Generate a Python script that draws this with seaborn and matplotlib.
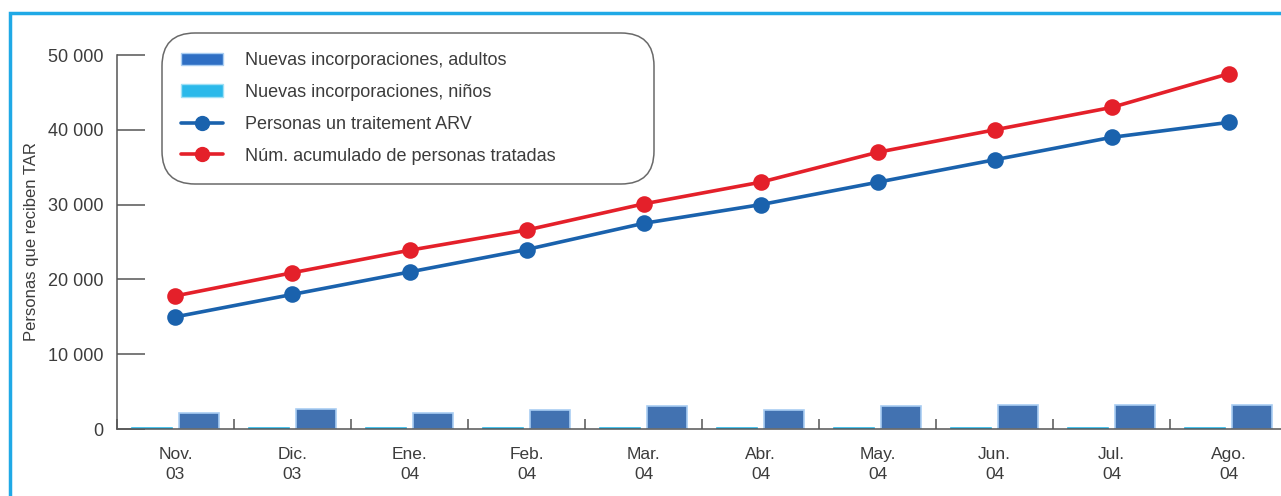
import matplotlib
matplotlib.use("Agg")
import matplotlib.pyplot as plt
from matplotlib.patches import Rectangle, Patch
from matplotlib.lines import Line2D
from matplotlib.ticker import MultipleLocator
import numpy as np
import pandas as pd
import seaborn as sns

# datos
meses = ["Nov.\n03", "Dic.\n03", "Ene.\n04", "Feb.\n04", "Mar.\n04",
         "Abr.\n04", "May.\n04", "Jun.\n04", "Jul.\n04", "Ago.\n04"]
nuevos_adultos = [2100, 2700, 2100, 2600, 3100, 2600, 3100, 3200, 3200, 3200]
nuevos_ninos = [200, 200, 200, 200, 200, 200, 200, 200, 200, 200]
personas_arv = [15000, 18000, 21000, 24000, 27500, 30000, 33000, 36000, 39000, 41000]
acumulado = [17800, 20900, 23900, 26600, 30100, 33000, 37000, 40000, 43000, 47500]
yticks = [0, 10000, 20000, 30000, 40000, 50000]
ytick_labels = ["0", "10 000", "20 000", "30 000", "40 000", "50 000"]

lab_adultos = "Nuevas incorporaciones, adultos"
lab_ninos = "Nuevas incorporaciones, niños"
lab_arv = "Personas un traitement ARV"
lab_acum = "Núm. acumulado de personas tratadas"

c_adultos = "#2f6fc4"
c_ninos = "#2bb9ea"
c_arv = "#1a62ad"
c_acum = "#e4202a"
gris = "#3c3c3c"

bars = pd.DataFrame({
    "mes": meses * 2,
    "valor": nuevos_ninos + nuevos_adultos,
    "tipo": [lab_ninos] * len(meses) + [lab_adultos] * len(meses),
})
lines = pd.DataFrame({
    "mes": meses * 2,
    "valor": personas_arv + acumulado,
    "serie": [lab_arv] * len(meses) + [lab_acum] * len(meses),
})

sns.set_style("white")
plt.rcParams["font.family"] = ["Liberation Sans", "DejaVu Sans"]

fig = plt.figure(figsize=(12.81, 4.96), dpi=100)
ax = fig.add_axes([0.0913, 0.135, 0.909, 0.754])

sns.barplot(data=bars, x="mes", y="valor", hue="tipo", order=meses,
            hue_order=[lab_ninos, lab_adultos],
            palette={lab_ninos: c_ninos, lab_adultos: c_adultos},
            width=0.8, gap=0.14, linewidth=1.2,
            ax=ax, legend=False)
for p in ax.patches:
    if p.get_height() < 1000:
        p.set_edgecolor(c_ninos)
    else:
        p.set_edgecolor("#a9cdf2")

sns.pointplot(data=lines, x="mes", y="valor", hue="serie", order=meses,
              hue_order=[lab_arv, lab_acum],
              palette={lab_arv: c_arv, lab_acum: c_acum},
              markers="o", markersize=10, linewidth=2.6,
              ax=ax, legend=False)

ax.set_xlim(-0.5, 9.45)
ax.set_ylim(0, 50000)
ax.set_yticks(yticks)
ax.set_yticklabels(ytick_labels)
ax.xaxis.set_minor_locator(MultipleLocator(1, offset=0.5))
ax.tick_params(axis="y", direction="in", length=20, width=1.1, color="#555555",
               pad=10, labelsize=13, labelcolor=gris, left=True)
ax.tick_params(axis="x", which="major", length=0, pad=13, labelsize=12.5, labelcolor=gris)
ax.tick_params(axis="x", which="minor", direction="in", length=7, width=1.1,
               color="#555555", bottom=True)
for t in ax.get_xticklabels():
    t.set_linespacing(1.45)
ax.set_xlabel("")
ax.set_ylabel("Personas que reciben TAR", fontsize=12, color=gris, labelpad=6)
for s in ["top", "right"]:
    ax.spines[s].set_visible(False)
for s in ["left", "bottom"]:
    ax.spines[s].set_color("#555555")
    ax.spines[s].set_linewidth(1.1)

handles = [
    Patch(facecolor=c_adultos, edgecolor="#a9cdf2", label=lab_adultos),
    Patch(facecolor=c_ninos, edgecolor="#9fe0f5", label=lab_ninos),
    Line2D([], [], color=c_arv, lw=2.6, marker="o", markersize=10, label=lab_arv),
    Line2D([], [], color=c_acum, lw=2.6, marker="o", markersize=10, label=lab_acum),
]
leg = fig.legend(handles=handles, loc="upper left", bbox_to_anchor=(0.131, 0.0, 0.375, 0.922),
                 mode="expand", fontsize=13, frameon=True, fancybox=True, labelspacing=0.82,
                 handlelength=2.3, handletextpad=1.2, borderpad=0.75, borderaxespad=0)
leg.get_frame().set_edgecolor("#444444")
leg.get_frame().set_linewidth(1.1)
leg.get_frame().set_boxstyle("round", pad=0.3, rounding_size=1.8)
for t in leg.get_texts():
    t.set_color(gris)

# marco celeste
fig.patches.append(Rectangle((0.0078, -0.02), 1.02, 0.994, transform=fig.transFigure,
                             fill=False, edgecolor="#1fa9e6", linewidth=2.5))

fig.savefig("out.png", dpi=100)
